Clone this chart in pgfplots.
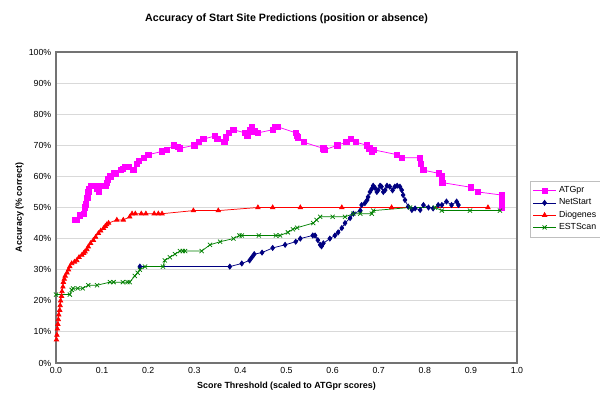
\documentclass[border=0pt]{standalone}
\usepackage{pgfplots}
\pgfplotsset{compat=1.18}
\usepackage{fontspec}
\setmainfont{Liberation Sans}

\definecolor{atg}{HTML}{FF00FF}
\definecolor{net}{HTML}{000080}
\definecolor{dio}{HTML}{FF0000}
\definecolor{est}{HTML}{008000}

\begin{document}
\begin{tikzpicture}
\begin{axis}[
  name=ax,
  scale only axis,
  width=345.75pt, height=233.25pt,
  xmin=0, xmax=1, ymin=0, ymax=100,
  xtick={0,0.1,...,1.0},
  ytick={0,10,...,100},
  xticklabel={\pgfmathprintnumber[fixed,fixed zerofill,precision=1]{\tick}},
  yticklabel={\pgfmathprintnumber{\tick}\%},
  /pgf/number format/assume math mode=true,
  tick label style={font=\fontsize{6.6}{7}\selectfont},
  major tick length=0pt,
  ymajorgrids,
  grid style={draw=black!15, line width=0.6pt},
  axis line style={draw=black!55, line width=1.6pt},
  xlabel={\bfseries Score Threshold (scaled to ATGpr scores)},
  ylabel={\bfseries Accuracy (\% correct)},
  label style={font=\fontsize{6.7}{7}\selectfont},
  xlabel style={yshift=1pt},
  ylabel style={yshift=-3pt},
  title={\bfseries Accuracy of Start Site Predictions (position or absence)},
  title style={font=\fontsize{8}{9}\selectfont, yshift=12pt},
  legend style={at={(1.028,0.585)}, anchor=north west, draw=black!25,
    font=\fontsize{6.6}{7}\selectfont, row sep=-1pt, inner sep=2pt},
  legend cell align=left,
  every axis plot/.append style={line width=0.55pt, mark size=1.9pt},
  clip=false,
]
\addplot[color=atg, mark=square*, mark size=2pt, mark options={fill=atg}] coordinates {
(0.041,46) (0.045,46) (0.052,47.5) (0.06,48) (0.062,50) (0.065,51)
(0.068,53) (0.070,55) (0.071,56) (0.075,57) (0.085,57) (0.090,56)
(0.093,55) (0.095,57) (0.108,57) (0.110,58) (0.112,59) (0.118,60)
(0.125,61) (0.130,61) (0.140,62) (0.145,62.5) (0.150,63) (0.158,63)
(0.168,62) (0.175,64) (0.180,65) (0.190,66) (0.200,67) (0.230,68)
(0.240,68.5) (0.255,70) (0.265,69.5) (0.268,69) (0.300,70) (0.310,71)
(0.320,72) (0.345,73) (0.350,72) (0.365,71) (0.368,72.5) (0.375,74)
(0.385,75) (0.410,74) (0.415,73) (0.420,75) (0.425,76) (0.430,74.5)
(0.438,74) (0.470,75) (0.475,76) (0.480,76) (0.520,74) (0.522,73)
(0.525,72.5) (0.537,71) (0.580,69) (0.582,68.5) (0.610,70) (0.630,71)
(0.640,72) (0.650,71) (0.675,70) (0.680,69) (0.685,68) (0.690,68.5)
(0.740,67) (0.750,66) (0.790,66) (0.792,64) (0.797,62) (0.830,61)
(0.837,60) (0.838,58) (0.900,56.5) (0.915,55) (0.967,54) (0.967,52)
(0.967,50)
};
\addlegendentry{ATGpr}
\addplot[color=net, mark=diamond*, mark options={fill=net}] coordinates {
(0.182,31) (0.377,31) (0.403,32) (0.420,33) (0.425,34) (0.430,35)
(0.447,35.5) (0.470,37) (0.497,38) (0.520,39) (0.530,40) (0.557,41)
(0.562,41) (0.568,39.5) (0.573,38) (0.576,37.5) (0.580,38.5) (0.594,40)
(0.605,41) (0.612,42) (0.620,43.4) (0.627,45) (0.638,46.6) (0.645,48)
(0.660,49) (0.663,50.8) (0.670,51.4) (0.675,52.4) (0.677,53.4)
(0.681,55) (0.685,56) (0.688,57) (0.692,56.3) (0.696,55) (0.699,55.6)
(0.703,57) (0.706,56.7) (0.710,55) (0.714,55.6) (0.718,57) (0.724,56.7)
(0.730,55.5) (0.735,56.7) (0.740,57) (0.746,56.7) (0.750,55.6)
(0.753,54) (0.757,52.4) (0.764,50.3) (0.772,49.2) (0.779,49.7)
(0.790,49.2) (0.797,50.8) (0.808,50) (0.818,49.7) (0.829,50.8)
(0.837,50.8) (0.847,51.9) (0.858,50.8) (0.869,51.9) (0.873,50.8)
};
\addlegendentry{NetStart}
\addplot[color=dio, mark=triangle*, mark options={fill=dio}] coordinates {
(0.001,7.5) (0.002,9) (0.003,11) (0.004,12.5) (0.005,14) (0.006,15.5)
(0.008,17) (0.009,18.5) (0.010,20) (0.012,21.5) (0.013,23) (0.015,24.5)
(0.016,26) (0.018,27) (0.020,28) (0.024,29) (0.027,30) (0.030,31)
(0.034,32) (0.040,32.5) (0.045,33) (0.050,34) (0.056,34.7) (0.060,35.3)
(0.063,35.8) (0.067,36.5) (0.070,37.4) (0.075,38.5) (0.081,39.5)
(0.086,40.5) (0.092,41.7) (0.097,42.5) (0.103,43.3) (0.107,44)
(0.110,44.5) (0.114,45) (0.132,46) (0.146,46) (0.160,47) (0.165,48)
(0.172,48) (0.185,48) (0.195,48) (0.213,48) (0.222,48) (0.230,48)
(0.298,49) (0.352,49) (0.438,50) (0.470,50) (0.530,50) (0.620,50)
(0.728,50) (0.937,50)
};
\addlegendentry{Diogenes}
\addplot[color=est, mark=x, mark size=2.2pt] coordinates {
(0.000,22) (0.030,22) (0.034,23.5) (0.037,24) (0.047,24) (0.058,24)
(0.070,25) (0.089,25) (0.117,26) (0.125,26) (0.145,26) (0.155,26)
(0.160,26) (0.171,28) (0.177,29) (0.182,30) (0.193,31) (0.232,31)
(0.236,33) (0.247,34) (0.258,35) (0.269,36) (0.275,36) (0.280,36)
(0.316,36) (0.334,38) (0.356,39) (0.385,40) (0.398,41) (0.403,41)
(0.440,41) (0.477,41) (0.486,41) (0.503,42) (0.514,43) (0.523,43.5)
(0.558,45) (0.565,46) (0.573,47) (0.600,47) (0.627,47) (0.645,48)
(0.660,48) (0.685,48) (0.688,49) (0.768,50) (0.822,50) (0.837,49)
(0.898,49) (0.963,49)
};
\addlegendentry{ESTScan}
\coordinate (ll) at (rel axis cs:0,0);
\end{axis}
\pgfresetboundingbox
\path[use as bounding box] (ll) ++(-42pt,-35.25pt) rectangle ++(450pt,307.5pt);
\end{tikzpicture}
\end{document}
